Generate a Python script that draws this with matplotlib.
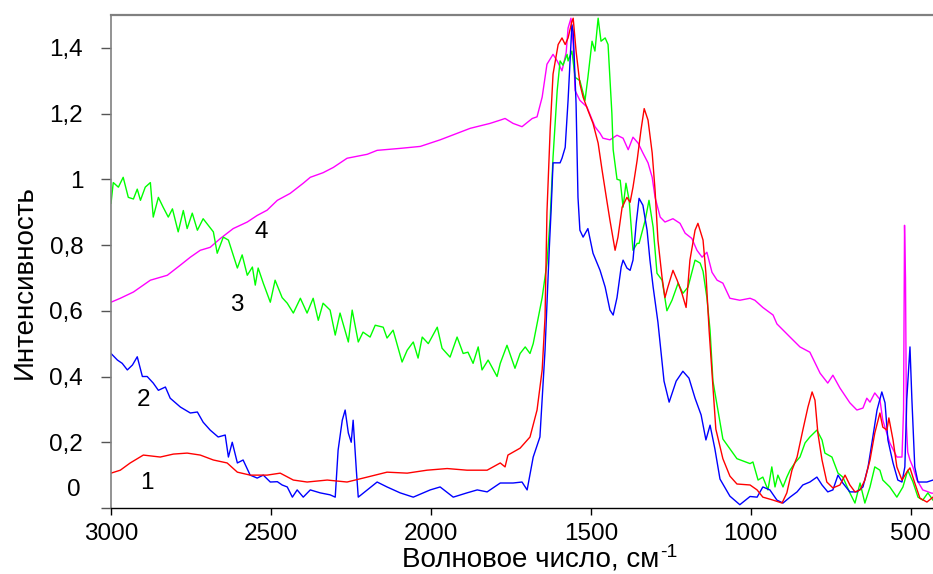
import matplotlib
matplotlib.use("Agg")
import matplotlib.pyplot as plt

plt.rcParams['font.family'] = ['Liberation Sans', 'DejaVu Sans']

# кривая 1 (красная)
wn1 = [3000, 2971, 2940, 2899, 2846, 2805, 2762, 2721, 2680, 2637, 2605, 2565, 2512, 2471,
       2430, 2387, 2324, 2262, 2199, 2137, 2074, 2012, 1949, 1887, 1824, 1783, 1768, 1759,
       1721, 1690, 1668, 1652, 1643, 1637, 1627, 1618, 1602, 1590, 1580, 1571, 1559, 1555,
       1546, 1534, 1524, 1509, 1493, 1477, 1465, 1449, 1440, 1424, 1415, 1402, 1387, 1377,
       1368, 1355, 1343, 1333, 1321, 1308, 1299, 1290, 1277, 1268, 1259, 1243, 1230, 1215,
       1202, 1190, 1174, 1165, 1149, 1140, 1130, 1109, 1087, 1065, 1043, 1002, 980, 962,
       930, 902, 887, 871, 855, 837, 821, 808, 799, 790, 777, 762, 743, 721, 705, 690, 674,
       658, 643, 627, 612, 596, 587, 574, 568, 555, 543, 527, 512, 502, 487, 471, 449, 430]
int1 = [0.106, 0.115, 0.137, 0.161, 0.155, 0.164, 0.167, 0.161, 0.146, 0.137, 0.109, 0.10,
        0.10, 0.106, 0.085, 0.079, 0.085, 0.079, 0.094, 0.109, 0.106, 0.115, 0.12, 0.115,
        0.115, 0.137, 0.125, 0.161, 0.182, 0.216, 0.298, 0.42, 0.58, 0.90, 1.15, 1.32, 1.41,
        1.43, 1.41, 1.43, 1.48, 1.49, 1.39, 1.29, 1.25, 1.21, 1.17, 1.11, 1.03, 0.93, 0.875,
        0.784, 0.824, 0.915, 0.945, 0.93, 0.976, 1.058, 1.15, 1.215, 1.18, 1.08, 0.967,
        0.815, 0.70, 0.64, 0.672, 0.723, 0.693, 0.653, 0.61, 0.754, 0.845, 0.866, 0.815,
        0.714, 0.54, 0.24, 0.15, 0.097, 0.073, 0.07, 0.055, 0.033, 0.024, 0.015, 0.046,
        0.115, 0.155, 0.237, 0.307, 0.353, 0.328, 0.228, 0.146, 0.079, 0.061, 0.07, 0.10,
        0.07, 0.049, 0.055, 0.085, 0.146, 0.228, 0.289, 0.246, 0.237, 0.274, 0.207, 0.125,
        0.085, 0.109, 0.122, 0.076, 0.03, 0.018, 0.033]

# кривая 2 (синяя)
wn2 = [3000, 2980, 2965, 2949, 2933, 2918, 2902, 2887, 2868, 2852, 2830, 2815, 2783, 2752,
       2730, 2712, 2690, 2665, 2643, 2633, 2621, 2605, 2587, 2565, 2543, 2524, 2502, 2480,
       2465, 2449, 2433, 2418, 2399, 2377, 2346, 2315, 2299, 2290, 2277, 2268, 2258, 2249,
       2243, 2233, 2227, 2199, 2168, 2137, 2096, 2055, 2002, 1971, 1930, 1887, 1855, 1824,
       1783, 1743, 1715, 1699, 1680, 1659, 1643, 1630, 1624, 1618, 1605, 1596, 1590, 1580,
       1571, 1562, 1559, 1555, 1546, 1540, 1534, 1524, 1509, 1493, 1471, 1455, 1440, 1430,
       1418, 1405, 1399, 1387, 1377, 1368, 1358, 1349, 1337, 1324, 1315, 1305, 1290, 1271,
       1255, 1233, 1212, 1193, 1174, 1155, 1140, 1127, 1112, 1096, 1065, 1034, 1002, 980,
       962, 940, 918, 899, 877, 855, 837, 815, 793, 777, 759, 743, 727, 712, 690, 668, 649,
       633, 621, 605, 590, 580, 571, 555, 540, 527, 518, 512, 502, 496, 487, 477, 449, 430]
int2 = [0.47, 0.45, 0.44, 0.42, 0.435, 0.46, 0.40, 0.40, 0.38, 0.358, 0.368, 0.334, 0.307,
        0.289, 0.292, 0.261, 0.237, 0.216, 0.222, 0.155, 0.20, 0.137, 0.146, 0.10, 0.091,
        0.10, 0.079, 0.08, 0.07, 0.064, 0.033, 0.055, 0.033, 0.055, 0.046, 0.04, 0.033,
        0.176, 0.267, 0.298, 0.228, 0.20, 0.267, 0.115, 0.033, 0.055, 0.079, 0.064, 0.046,
        0.033, 0.055, 0.064, 0.033, 0.046, 0.055, 0.049, 0.076, 0.076, 0.079, 0.055, 0.155,
        0.216, 0.48, 0.784, 0.906, 1.05, 1.05, 1.05, 1.064, 1.097, 1.24, 1.41, 1.47, 1.45,
        1.23, 0.945, 0.845, 0.824, 0.85, 0.775, 0.723, 0.672, 0.602, 0.587, 0.64, 0.733,
        0.754, 0.73, 0.723, 0.754, 0.866, 0.942, 0.921, 0.845, 0.754, 0.672, 0.565, 0.386,
        0.322, 0.386, 0.416, 0.395, 0.334, 0.283, 0.207, 0.252, 0.18, 0.088, 0.036, 0.01,
        0.035, 0.033, 0.064, 0.055, 0.024, 0.015, 0.033, 0.049, 0.07, 0.079, 0.094, 0.07,
        0.049, 0.055, 0.10, 0.076, 0.049, 0.049, 0.064, 0.125, 0.198, 0.298, 0.353, 0.32,
        0.207, 0.137, 0.085, 0.079, 0.125, 0.33, 0.49, 0.33, 0.125, 0.079, 0.079, 0.085]

# кривая 3 (зелёная)
wn3 = [3000, 2993, 2977, 2962, 2946, 2930, 2918, 2908, 2893, 2877, 2868, 2852, 2837, 2821,
       2808, 2790, 2774, 2762, 2746, 2730, 2712, 2696, 2680, 2668, 2649, 2633, 2605, 2590,
       2574, 2558, 2549, 2540, 2524, 2502, 2487, 2465, 2449, 2430, 2408, 2387, 2368, 2352,
       2337, 2315, 2299, 2284, 2258, 2246, 2227, 2212, 2190, 2174, 2149, 2137, 2118, 2090,
       2074, 2055, 2040, 2027, 2008, 1980, 1965, 1940, 1918, 1899, 1884, 1868, 1852, 1840,
       1821, 1793, 1783, 1762, 1737, 1721, 1705, 1690, 1680, 1668, 1652, 1637, 1627, 1618,
       1605, 1596, 1587, 1574, 1571, 1559, 1549, 1534, 1518, 1509, 1496, 1487, 1477, 1468,
       1455, 1446, 1434, 1430, 1418, 1408, 1399, 1390, 1380, 1368, 1355, 1349, 1330, 1318,
       1305, 1293, 1277, 1262, 1246, 1227, 1212, 1196, 1174, 1158, 1149, 1137, 1127, 1118,
       1087, 1043, 1002, 993, 977, 962, 946, 934, 924, 915, 899, 887, 877, 862, 846, 830,
       815, 793, 777, 768, 746, 727, 712, 690, 674, 658, 643, 627, 612, 596, 587, 565, 543,
       524, 509, 493, 477, 462, 446, 430]
int3 = [0.927, 0.99, 0.976, 1.006, 0.945, 0.94, 0.97, 0.936, 0.976, 0.99, 0.885, 0.945,
        0.915, 0.885, 0.91, 0.84, 0.905, 0.85, 0.897, 0.845, 0.88, 0.86, 0.84, 0.775, 0.824,
        0.815, 0.73, 0.77, 0.708, 0.733, 0.678, 0.73, 0.684, 0.626, 0.693, 0.64, 0.623,
        0.593, 0.638, 0.593, 0.638, 0.571, 0.623, 0.602, 0.526, 0.593, 0.505, 0.602, 0.505,
        0.535, 0.52, 0.556, 0.55, 0.517, 0.541, 0.444, 0.48, 0.505, 0.456, 0.52, 0.50, 0.55,
        0.486, 0.459, 0.52, 0.47, 0.474, 0.44, 0.49, 0.42, 0.45, 0.40, 0.44, 0.495, 0.425,
        0.47, 0.49, 0.47, 0.50, 0.56, 0.64, 0.745, 0.88, 1.067, 1.27, 1.36, 1.347, 1.38,
        1.36, 1.39, 1.31, 1.30, 1.24, 1.31, 1.42, 1.39, 1.49, 1.42, 1.43, 1.41, 1.2, 1.09,
        1.0, 0.997, 0.915, 0.988, 0.936, 0.784, 0.805, 0.805, 0.875, 0.936, 0.854, 0.714,
        0.693, 0.60, 0.632, 0.684, 0.653, 0.672, 0.754, 0.745, 0.72, 0.64, 0.54, 0.386,
        0.21, 0.15, 0.135, 0.14, 0.085, 0.094, 0.055, 0.125, 0.064, 0.10, 0.064, 0.094,
        0.115, 0.137, 0.155, 0.198, 0.216, 0.237, 0.207, 0.167, 0.155, 0.106, 0.094, 0.046,
        0.015, 0.076, 0.015, 0.064, 0.125, 0.115, 0.085, 0.064, 0.033, 0.064, 0.115, 0.08,
        0.033, 0.024, 0.046, 0.024]

# кривая 4 (фиолетовая)
wn4 = [3000, 2971, 2930, 2877, 2824, 2783, 2752, 2721, 2690, 2658, 2618, 2574, 2543, 2512,
       2480, 2440, 2399, 2377, 2337, 2305, 2262, 2199, 2168, 2096, 2033, 1971, 1877, 1815,
       1783, 1768, 1743, 1715, 1683, 1668, 1652, 1637, 1618, 1605, 1590, 1577, 1571, 1562,
       1555, 1549, 1534, 1512, 1487, 1471, 1462, 1440, 1418, 1399, 1383, 1368, 1352, 1337,
       1321, 1308, 1299, 1283, 1268, 1243, 1221, 1205, 1184, 1168, 1152, 1137, 1121, 1105,
       1087, 1065, 1034, 1002, 987, 962, 930, 918, 877, 846, 815, 783, 759, 743, 721, 690,
       668, 649, 637, 627, 612, 596, 587, 565, 543, 527, 522, 519, 516, 513, 509, 502, 493,
       480, 462, 434, 430]
int4 = [0.626, 0.638, 0.657, 0.693, 0.708, 0.739, 0.763, 0.784, 0.793, 0.82, 0.85, 0.87,
        0.89, 0.906, 0.936, 0.957, 0.988, 1.006, 1.02, 1.036, 1.064, 1.076, 1.088, 1.094,
        1.10, 1.12, 1.155, 1.17, 1.18, 1.185, 1.17, 1.16, 1.185, 1.19, 1.25, 1.35, 1.38,
        1.36, 1.33, 1.385, 1.46, 1.49, 1.41, 1.27, 1.24, 1.22, 1.16, 1.14, 1.125, 1.12,
        1.134, 1.125, 1.09, 1.128, 1.11, 1.08, 1.05, 1.006, 0.945, 0.885, 0.87, 0.88, 0.866,
        0.836, 0.82, 0.784, 0.763, 0.778, 0.717, 0.693, 0.684, 0.638, 0.632, 0.638, 0.632,
        0.61, 0.587, 0.56, 0.52, 0.49, 0.474, 0.41, 0.38, 0.404, 0.365, 0.32, 0.298, 0.304,
        0.334, 0.322, 0.35, 0.33, 0.267, 0.198, 0.155, 0.155, 0.3, 0.86, 0.7, 0.25, 0.17,
        0.146, 0.125, 0.085, 0.055, 0.045, 0.045]

labels = ['1', '2', '3', '4']
label_pos = [(2887, 0.076), (2899, 0.328), (2608, 0.617), (2530, 0.839)]

yticks = [0, 0.2, 0.4, 0.6, 0.8, 1.0, 1.2, 1.4]
ytick_labels = ['0', '0,2', '0,4', '0,6', '0,8', '1', '1,2', '1,4']
xticks = [3000, 2500, 2000, 1500, 1000, 500]

fig = plt.figure(figsize=(9.33, 5.74), dpi=100)
ax = fig.add_axes([0.119, 0.115, 0.881, 0.859])

ax.plot(wn4, int4, color='#ff00ff', lw=1.0)
ax.plot(wn3, int3, color='#00ff00', lw=1.0)
ax.plot(wn2, int2, color='#0000ff', lw=1.0)
ax.plot(wn1, int1, color='#ff0000', lw=1.0)

for t, (xx, yy) in zip(labels, label_pos):
    ax.text(xx, yy, t, fontsize=17.5, ha='center', va='center')

ax.set_xlim(3000, 430)
ax.set_ylim(0, 1.5)
ax.set_xticks(xticks)
ax.set_xticklabels([str(v) for v in xticks])
ax.set_yticks(yticks)
ax.set_yticklabels([''] + ytick_labels[1:])
# подпись «0» сдвинута вверх, как в оригинале
ax.annotate('0', xy=(0, 0), xycoords=('axes fraction', 'data'), xytext=(-22, 13),
            textcoords='offset points', ha='right', va='center', fontsize=17.5)

ax.tick_params(axis='x', direction='out', length=5, width=1, pad=6, labelsize=17.5)
ax.tick_params(axis='y', direction='out', length=7, width=1, pad=13, labelsize=17.5,
               color='#555555')

ax.spines['right'].set_visible(False)
ax.spines['top'].set_color('#808080')
ax.spines['top'].set_linewidth(1.6)
ax.spines['left'].set_color('#808080')
ax.spines['left'].set_linewidth(1.2)
ax.spines['bottom'].set_color('black')
ax.spines['bottom'].set_linewidth(1.0)

xl = ax.set_xlabel('Волновое число, см', fontsize=20)
ax.set_ylabel('Интенсивность', fontsize=20)
ax.xaxis.set_label_coords(0.51, -0.078)
ax.yaxis.set_label_coords(-0.089, 0.458)

# показатель степени «-1» у единиц: ставим после отрисовки подписи
fig.canvas.draw()
bb = xl.get_window_extent().transformed(fig.transFigure.inverted())
fig.text(bb.x1 + 0.001, bb.y1 + 0.004, '-1', fontsize=14, ha='left', va='top')

fig.savefig('out.png', dpi=100)
